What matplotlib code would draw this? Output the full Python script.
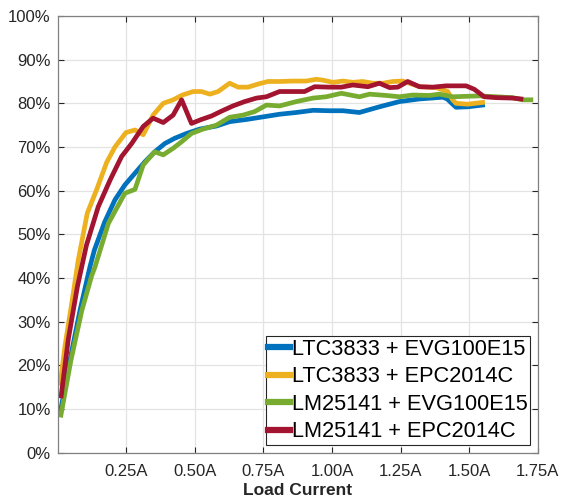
import matplotlib
matplotlib.use("Agg")
import matplotlib.pyplot as plt
from matplotlib.ticker import FuncFormatter

plt.rcParams['font.family'] = ['Liberation Sans', 'DejaVu Sans']

# Load current (A) and efficiency (%)
ltc_evg_x = [0.012, 0.045, 0.082, 0.118, 0.134, 0.172, 0.209, 0.245, 0.282, 0.318,
             0.354, 0.391, 0.427, 0.470, 0.518, 0.579, 0.627, 0.688, 0.749, 0.809,
             0.870, 0.931, 0.991, 1.040, 1.100, 1.173, 1.246, 1.319, 1.404, 1.420,
             1.452, 1.495, 1.549]
ltc_evg_y = [10.0, 21.2, 32.7, 42.6, 46.4, 52.9, 57.9, 61.3, 64.0, 66.6,
             68.9, 70.8, 72.0, 73.1, 74.1, 74.8, 75.8, 76.3, 76.9, 77.5,
             77.9, 78.4, 78.3, 78.3, 77.9, 79.2, 80.4, 81.0, 81.4, 81.0,
             79.1, 79.2, 79.6]

ltc_epc_x = [0.010, 0.027, 0.051, 0.075, 0.108, 0.142, 0.179, 0.209, 0.249, 0.282,
             0.312, 0.348, 0.385, 0.421, 0.455, 0.494, 0.524, 0.555, 0.585, 0.627,
             0.658, 0.694, 0.730, 0.767, 0.809, 0.858, 0.906, 0.943, 0.967, 1.003,
             1.040, 1.076, 1.112, 1.149, 1.185, 1.222, 1.258, 1.320, 1.380, 1.422,
             1.440, 1.452, 1.495, 1.549]
ltc_epc_y = [15.9, 24.5, 34.0, 44.0, 54.8, 60.2, 66.5, 70.0, 73.3, 73.9,
             72.8, 77.3, 80.0, 80.8, 81.9, 82.7, 82.7, 82.1, 82.7, 84.6,
             83.7, 83.7, 84.4, 85.0, 85.0, 85.1, 85.1, 85.5, 85.3, 84.8,
             85.1, 84.8, 85.0, 84.6, 84.6, 85.0, 85.1, 83.8, 83.6, 82.7,
             80.8, 80.0, 79.8, 80.2]

lm_evg_x = [0.012, 0.048, 0.088, 0.124, 0.136, 0.185, 0.245, 0.282, 0.312, 0.354,
            0.385, 0.421, 0.452, 0.488, 0.530, 0.579, 0.627, 0.676, 0.718, 0.761,
            0.809, 0.870, 0.931, 0.979, 1.034, 1.100, 1.137, 1.198, 1.246, 1.294,
            1.355, 1.392, 1.440, 1.537, 1.598, 1.658, 1.695, 1.725]
lm_evg_y = [8.6, 21.0, 32.5, 40.5, 42.5, 52.5, 59.4, 60.3, 65.9, 68.9,
            68.2, 69.7, 71.2, 73.1, 74.1, 75.0, 76.8, 77.3, 78.1, 79.6,
            79.4, 80.4, 81.2, 81.5, 82.3, 81.5, 82.1, 81.8, 81.5, 81.9,
            81.8, 82.1, 81.5, 81.7, 81.5, 81.3, 80.8, 80.8]

lm_epc_x = [0.013, 0.039, 0.072, 0.105, 0.148, 0.191, 0.233, 0.270, 0.312, 0.348,
            0.385, 0.421, 0.452, 0.488, 0.524, 0.561, 0.597, 0.639, 0.682, 0.725,
            0.761, 0.809, 0.900, 0.937, 0.991, 1.034, 1.076, 1.131, 1.173, 1.210,
            1.240, 1.276, 1.319, 1.367, 1.416, 1.489, 1.519, 1.555, 1.598, 1.658,
            1.689]
lm_epc_y = [13.0, 26.0, 38.0, 47.5, 56.3, 62.4, 67.8, 70.8, 74.7, 76.6,
            75.6, 77.3, 80.8, 75.4, 76.3, 77.1, 78.2, 79.4, 80.4, 81.2,
            81.5, 82.7, 82.7, 83.8, 83.7, 83.7, 84.2, 83.8, 84.6, 83.6,
            83.7, 85.0, 83.8, 83.7, 84.0, 84.0, 83.2, 81.5, 81.3, 81.2,
            81.0]

labels = ['LTC3833 + EVG100E15', 'LTC3833 + EPC2014C',
          'LM25141 + EVG100E15', 'LM25141 + EPC2014C']
colors = ['#0072BD', '#EDB120', '#77AC30', '#A2142F']

x_ticks = [0.25, 0.50, 0.75, 1.00, 1.25, 1.50, 1.75]
y_ticks = [0, 10, 20, 30, 40, 50, 60, 70, 80, 90, 100]

fig, ax = plt.subplots(figsize=(5.61, 5.04), dpi=100)
fig.subplots_adjust(left=0.1027, right=0.9585, top=0.9683, bottom=0.1018)

series = [(ltc_evg_x, ltc_evg_y), (ltc_epc_x, ltc_epc_y),
          (lm_evg_x, lm_evg_y), (lm_epc_x, lm_epc_y)]
for (xs, ys), lab, col in zip(series, labels, colors):
    ax.plot(xs, ys, color=col, lw=3.4, label=lab)

ax.set_xlim(0, 1.75)
ax.set_ylim(0, 100)
ax.set_xticks(x_ticks)
ax.set_yticks(y_ticks)
ax.xaxis.set_major_formatter(FuncFormatter(lambda v, p: '{0:.2f}A'.format(v)))
ax.yaxis.set_major_formatter(FuncFormatter(lambda v, p: '{0:.0f}%'.format(v)))
ax.grid(True, color='#e3e3e3', lw=0.9)
ax.set_axisbelow(True)

gray = '#262626'
for s in ax.spines.values():
    s.set_color('#808080')
    s.set_linewidth(0.9)
ax.tick_params(direction='in', length=4, width=0.8, color=gray,
               top=True, right=True, labelsize=12, labelcolor=gray)
ax.tick_params(axis='x', pad=8)
ax.tick_params(axis='y', pad=5)
ax.set_xlabel('Load Current', fontsize=12.5, fontweight='bold', color=gray,
              labelpad=3)

leg = ax.legend(loc='lower right', fontsize=15.7, handlelength=1.0,
                handletextpad=0.08, labelspacing=0.3, borderpad=0.12,
                borderaxespad=0.35, fancybox=False, framealpha=1)
leg.get_frame().set_edgecolor(gray)
leg.get_frame().set_linewidth(0.8)
for line in leg.get_lines():
    line.set_linewidth(4.5)

fig.savefig('out.png', dpi=100)
